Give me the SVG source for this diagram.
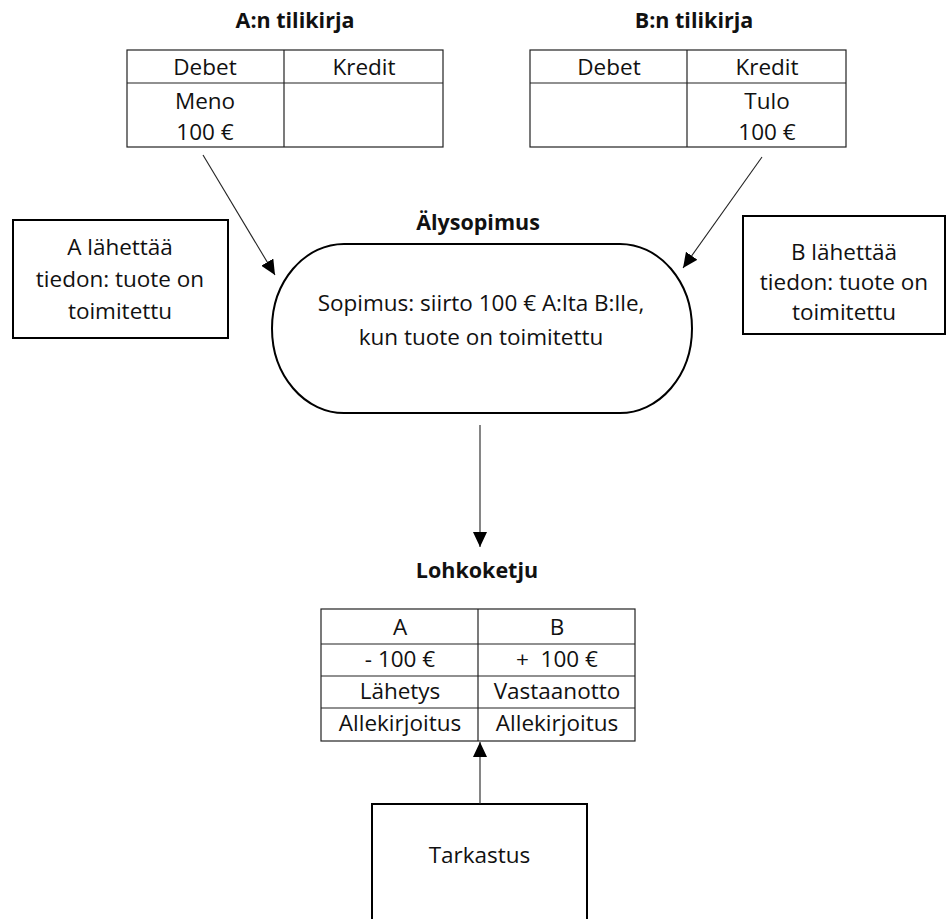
<svg xmlns="http://www.w3.org/2000/svg" width="947" height="919" viewBox="0 0 947 919">
<defs>
<style>
text{font-family:"Open Sans","Noto Sans","DejaVu Sans",sans-serif;fill:#111;}
.t{font-size:22.5px;text-anchor:middle;}
.h{font-size:21.5px;font-weight:bold;text-anchor:middle;}
.grid{fill:none;stroke:#222;stroke-width:1.2;}
.box{fill:#fff;stroke:#000;stroke-width:2;}
.conn{fill:none;stroke:#222;stroke-width:1.1;}
</style>
<marker id="ah" markerUnits="userSpaceOnUse" markerWidth="16" markerHeight="14" refX="15" refY="7" orient="auto">
<path d="M0,0 L15,7 L0,14 Z" fill="#000"/>
</marker>
</defs>
<rect width="947" height="919" fill="#fff"/>

<g id="ledgerA">
<text class="h" x="295" y="28">A:n tilikirja</text>
<rect class="grid" x="127" y="50" width="316" height="97"/>
<line class="grid" x1="127" y1="83" x2="443" y2="83"/>
<line class="grid" x1="284" y1="50" x2="284" y2="147"/>
<text class="t" x="205" y="75">Debet</text>
<text class="t" x="364" y="75">Kredit</text>
<text class="t" x="205" y="109">Meno</text>
<text class="t" x="205" y="140">100 €</text>
</g>

<g id="ledgerB">
<text class="h" x="694" y="28">B:n tilikirja</text>
<rect class="grid" x="530" y="50" width="316" height="97"/>
<line class="grid" x1="530" y1="83" x2="846" y2="83"/>
<line class="grid" x1="687" y1="50" x2="687" y2="147"/>
<text class="t" x="609" y="75">Debet</text>
<text class="t" x="767" y="75">Kredit</text>
<text class="t" x="767" y="109">Tulo</text>
<text class="t" x="767" y="140">100 €</text>
</g>

<g id="sendA">
<rect class="box" x="13" y="220" width="215" height="118"/>
<text class="t" x="120" y="255">A lähettää</text>
<text class="t" x="120" y="287">tiedon: tuote on</text>
<text class="t" x="120" y="319">toimitettu</text>
</g>

<g id="sendB">
<rect class="box" x="743" y="216" width="202" height="118"/>
<text class="t" x="844" y="260">B lähettää</text>
<text class="t" x="844" y="290">tiedon: tuote on</text>
<text class="t" x="844" y="320">toimitettu</text>
</g>

<g id="smartContract">
<text class="h" x="478" y="230">Älysopimus</text>
<rect class="box" x="272" y="244" width="420" height="169" rx="72" ry="84.5"/>
<text class="t" x="481" y="311">Sopimus: siirto 100 € A:lta B:lle,</text>
<text class="t" x="481" y="345">kun tuote on toimitettu</text>
</g>

<g id="blockchain">
<text class="h" x="477" y="578">Lohkoketju</text>
<rect class="grid" x="321" y="609" width="314" height="132"/>
<line class="grid" x1="321" y1="644" x2="635" y2="644"/>
<line class="grid" x1="321" y1="676" x2="635" y2="676"/>
<line class="grid" x1="321" y1="708" x2="635" y2="708"/>
<line class="grid" x1="478" y1="609" x2="478" y2="741"/>
<text class="t" x="400" y="635">A</text>
<text class="t" x="557" y="635">B</text>
<text class="t" x="400" y="667">- 100 €</text>
<text class="t" x="557" y="667" xml:space="preserve">+  100 €</text>
<text class="t" x="400" y="699">Lähetys</text>
<text class="t" x="557" y="699">Vastaanotto</text>
<text class="t" x="400" y="731">Allekirjoitus</text>
<text class="t" x="557" y="731">Allekirjoitus</text>
</g>

<g id="check">
<rect class="box" x="372" y="804" width="215" height="130"/>
<text class="t" x="479.5" y="863">Tarkastus</text>
</g>

<g id="connectors">
<line class="conn" x1="203" y1="155" x2="275" y2="275" marker-end="url(#ah)"/>
<line class="conn" x1="762" y1="157" x2="683" y2="268" marker-end="url(#ah)"/>
<line class="conn" x1="480" y1="425" x2="480" y2="547" marker-end="url(#ah)"/>
<line class="conn" x1="480" y1="804" x2="480" y2="742" marker-end="url(#ah)"/>
</g>
</svg>
